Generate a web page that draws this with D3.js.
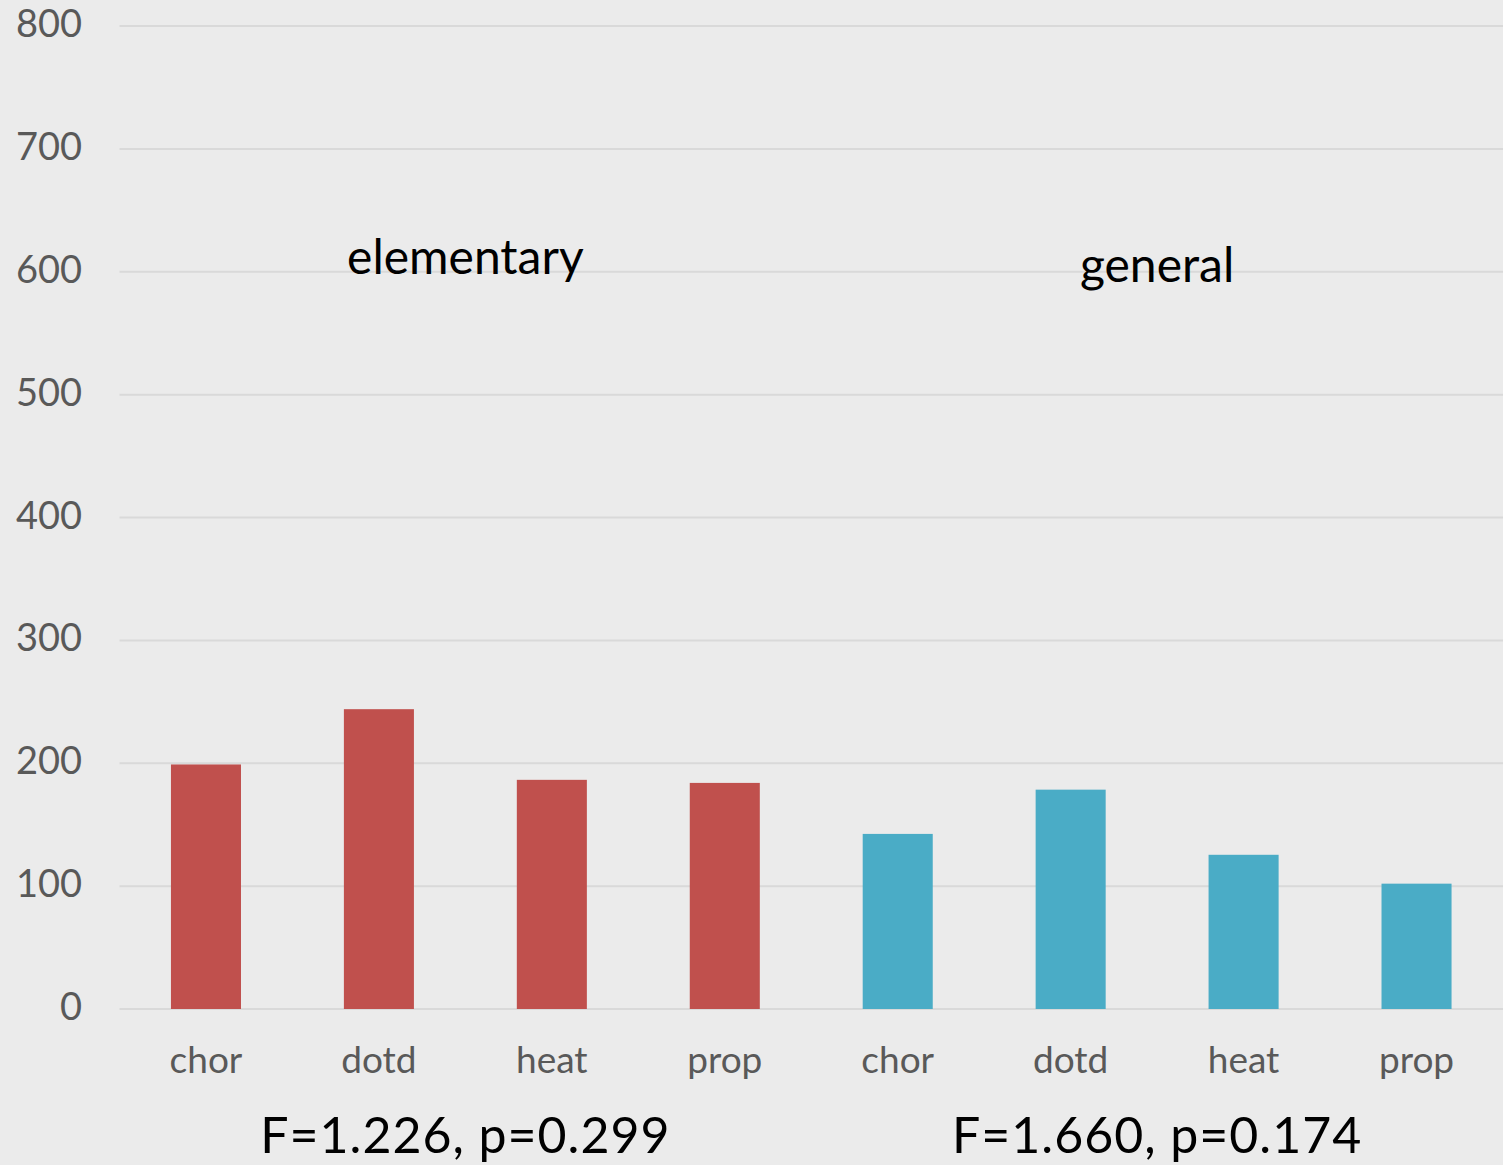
<!DOCTYPE html>
<html>
<head>
<meta charset="utf-8">
<script src="https://cdn.jsdelivr.net/npm/d3@7"></script>
<style>
  body { margin: 0; background: #ebebeb; }
  text { font-family: "Lato", "Open Sans", sans-serif; }
</style>
</head>
<body>
<div id="chart"></div>
<script>
// data
var categories = ["chor", "dotd", "heat", "prop"];
var groups = ["elementary", "general"];
var elementary = [199, 244, 186.5, 184];
var general = [142.5, 178.5, 125.5, 102];
var stats = ["F=1.226, p=0.299", "F=1.660, p=0.174"];
var yTicks = [0, 100, 200, 300, 400, 500, 600, 700, 800];

var width = 1503, height = 1165;
var margin = { top: 26, right: 0, bottom: 156, left: 119.5 };

var colors = { elementary: "#c0504d", general: "#4aacc6" };

var rows = [];
elementary.forEach(function(v, i) { rows.push({ key: "e" + i, cat: categories[i], group: "elementary", value: v }) });
general.forEach(function(v, i) { rows.push({ key: "g" + i, cat: categories[i], group: "general", value: v }) });

var svg = d3.select("#chart")
  .append("svg")
    .attr("width", width)
    .attr("height", height)
    .style("background", "#ebebeb");

var x = d3.scaleBand()
  .domain(rows.map(function(d) { return d.key }))
  .range([margin.left, width - margin.right])
  .paddingInner(0.595)
  .paddingOuter(0.2975);

var y = d3.scaleLinear()
  .domain([0, 800])
  .range([height - margin.bottom, margin.top]);

// gridlines
svg.append("g")
  .selectAll("line")
  .data(yTicks)
  .enter()
  .append("line")
    .attr("x1", margin.left)
    .attr("x2", width - margin.right)
    .attr("y1", function(d) { return y(d) })
    .attr("y2", function(d) { return y(d) })
    .attr("stroke", "#d9d9d9")
    .attr("stroke-width", 2);

// y tick labels
svg.append("g")
  .selectAll("text")
  .data(yTicks)
  .enter()
  .append("text")
    .attr("x", 82)
    .attr("y", function(d) { return y(d) + 11 })
    .attr("text-anchor", "end")
    .attr("fill", "#595959")
    .style("font-size", "38px")
    .text(function(d) { return d });

// bars
svg.append("g")
  .selectAll("rect")
  .data(rows)
  .enter()
  .append("rect")
    .attr("x", function(d) { return x(d.key) })
    .attr("y", function(d) { return y(d.value) })
    .attr("width", x.bandwidth())
    .attr("height", function(d) { return y(0) - y(d.value) })
    .attr("fill", function(d) { return colors[d.group] });

// category labels
svg.append("g")
  .selectAll("text")
  .data(rows)
  .enter()
  .append("text")
    .attr("x", function(d) { return x(d.key) + x.bandwidth() / 2 })
    .attr("y", 1073)
    .attr("text-anchor", "middle")
    .attr("fill", "#595959")
    .style("font-size", "37px")
    .text(function(d) { return d.cat });

// group titles and stats
var groupCenter = function(g) {
  var first = g === "elementary" ? "e0" : "g0";
  var last = g === "elementary" ? "e3" : "g3";
  return (x(first) + x(last) + x.bandwidth()) / 2;
};

svg.append("g")
  .selectAll("text")
  .data(groups)
  .enter()
  .append("text")
    .attr("x", function(d) { return groupCenter(d) })
    .attr("y", function(d, i) { return i === 0 ? 274 : 282 })
    .attr("text-anchor", "middle")
    .attr("fill", "#000")
    .style("font-size", "48px")
    .text(function(d) { return d });

svg.append("g")
  .selectAll("text")
  .data(stats)
  .enter()
  .append("text")
    .attr("x", function(d, i) { return groupCenter(groups[i]) })
    .attr("y", 1153)
    .attr("text-anchor", "middle")
    .attr("fill", "#000")
    .style("font-size", "50px")
    .style("letter-spacing", "1px")
    .text(function(d) { return d });
</script>
</body>
</html>
